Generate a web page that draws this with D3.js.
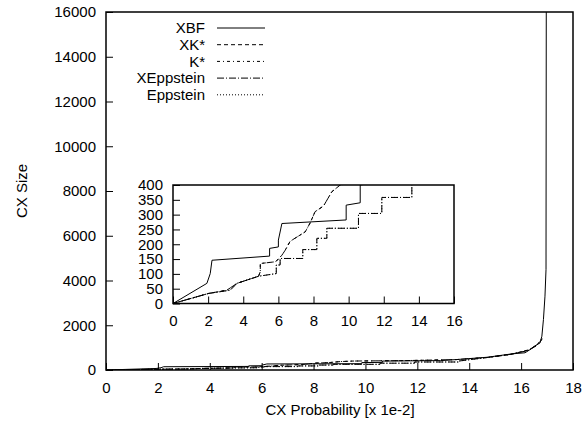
<!DOCTYPE html>
<html>
<head>
<meta charset="utf-8">
<script src="https://cdn.jsdelivr.net/npm/d3@7"></script>
<style>
  html, body { margin: 0; padding: 0; background: #fff; }
  svg text { font-family: "Liberation Sans", Arial, Helvetica, sans-serif; font-size: 15px; fill: #000; }
</style>
</head>
<body>
<div id="chart"></div>
<script>
// ---- data (x = CX probability [1e-2], y = CX size) ----
const xbfData = [
  [0, 0], [1.93, 68], [2.12, 101], [2.22, 146], [5.5, 160], [5.5, 186], [6.0, 191],
  [6.0, 214], [6.2, 270], [9.86, 282], [9.86, 332], [10.66, 340], [10.66, 400],
  [12.9, 420], [13.55, 470], [14.7, 570], [15.64, 720], [16.15, 770], [16.35, 915],
  [16.47, 1035], [16.73, 1210], [16.8, 1510], [16.86, 2250], [16.92, 3300],
  [16.96, 4500], [16.97, 16000]
];
const xkData = [
  [0, 0], [2.03, 34], [3.07, 45], [3.64, 68], [4.87, 92], [4.97, 107], [4.97, 135],
  [5.85, 141], [6.2, 163], [6.39, 180], [6.67, 210], [7.53, 242], [7.81, 272],
  [8.09, 310], [8.57, 329], [9.04, 377], [9.52, 400], [11.5, 420], [13.5, 465],
  [14.7, 560], [15.6, 700], [16.3, 900], [16.6, 1100], [16.8, 1400]
];
const xeppData = [
  [0, 0], [2.03, 34], [3.26, 45], [3.64, 68], [4.87, 92], [5.88, 101], [5.88, 130],
  [6.1, 130], [6.1, 152], [7.39, 152], [7.39, 182], [8.19, 182], [8.19, 220],
  [8.76, 220], [8.76, 254], [10.56, 254], [10.56, 304], [11.89, 304], [11.89, 358],
  [13.6, 358], [13.6, 400], [14.7, 560], [15.6, 700], [16.3, 880], [16.6, 1100],
  [16.8, 1350]
];
// K* and Eppstein lie on top of XK* and XEppstein in the picture
const kData = xkData;
const eppData = xeppData;

const seriesNames = ["XBF", "XK*", "K*", "XEppstein", "Eppstein"];
const seriesValues = [xbfData, xkData, kData, xeppData, eppData];
const seriesDash = [null, "4,3", "3,3,1,3", "7,2,1,2", "1,2"];

const mainXTicks = [0, 2, 4, 6, 8, 10, 12, 14, 16, 18];
const mainYTicks = [0, 2000, 4000, 6000, 8000, 10000, 12000, 14000, 16000];
const insetXTicks = [0, 2, 4, 6, 8, 10, 12, 14, 16];
const insetYTicks = [0, 50, 100, 150, 200, 250, 300, 350, 400];

// ---- drawing ----
const W = 587, H = 430;
const svg = d3.select('#chart').append('svg').attr('width', W).attr('height', H);
const fmt = d3.format('d');

function panel(id, xDom, yDom, xr, yr, xTicks, yTicks) {
  const x = d3.scaleLinear().domain(xDom).range(xr);
  const y = d3.scaleLinear().domain(yDom).range(yr);
  const g = svg.append('g');

  svg.append('clipPath').attr('id', id)
    .append('rect')
    .attr('x', xr[0]).attr('y', yr[1])
    .attr('width', xr[1] - xr[0]).attr('height', yr[0] - yr[1]);

  g.append('rect')
    .attr('x', xr[0]).attr('y', yr[1])
    .attr('width', xr[1] - xr[0]).attr('height', yr[0] - yr[1])
    .attr('fill', '#fff');

  const xa = g.append('g').attr('transform', `translate(0,${yr[0]})`)
    .call(d3.axisBottom(x).tickValues(xTicks).tickFormat(fmt)
      .tickSizeInner(-7).tickSizeOuter(0).tickPadding(12));
  const ya = g.append('g').attr('transform', `translate(${xr[0]},0)`)
    .call(d3.axisLeft(y).tickValues(yTicks).tickFormat(fmt)
      .tickSizeInner(-7).tickSizeOuter(0).tickPadding(10));
  [xa, ya].forEach(a => {
    a.select('.domain').remove();
    a.selectAll('line').attr('stroke', '#000').attr('stroke-width', 1);
    a.selectAll('text').attr('font-size', null).attr('font-family', null).attr('fill', '#000');
  });
  xa.selectAll('text').attr('dy', '0.71em');

  const line = d3.line().x(d => x(d[0])).y(d => y(d[1]));
  const lines = g.append('g').attr('clip-path', `url(#${id})`);
  seriesValues.forEach((s, i) => {
    lines.append('path')
      .datum(s)
      .attr('d', line)
      .attr('fill', 'none')
      .attr('stroke', '#000')
      .attr('stroke-width', 1)
      .attr('stroke-dasharray', seriesDash[i]);
  });

  g.append('rect')
    .attr('x', xr[0]).attr('y', yr[1])
    .attr('width', xr[1] - xr[0]).attr('height', yr[0] - yr[1])
    .attr('fill', 'none').attr('stroke', '#000').attr('stroke-width', 1.5);
  return g;
}

panel('clipMain', [0, 18], [0, 16000], [106, 573], [370, 12], mainXTicks, mainYTicks);

// legend
const legend = svg.append('g');
seriesNames.forEach((name, i) => {
  const yy = 28 + i * 16.7;
  legend.append('text').attr('x', 205).attr('y', yy).attr('dy', '0.35em')
    .attr('text-anchor', 'end').text(name);
  legend.append('line').attr('x1', 217).attr('x2', 265).attr('y1', yy).attr('y2', yy)
    .attr('stroke', '#000').attr('stroke-width', 1)
    .attr('stroke-dasharray', seriesDash[i]);
});

// inset
panel('clipInset', [0, 16], [0, 400], [173, 454], [303.5, 185], insetXTicks, insetYTicks);

// axis titles
svg.append('text').attr('x', 340).attr('y', 415).attr('text-anchor', 'middle')
  .text('CX Probability [x 1e-2]');
svg.append('text').attr('transform', 'translate(27,191) rotate(-90)')
  .attr('text-anchor', 'middle').text('CX Size');
</script>
</body>
</html>
